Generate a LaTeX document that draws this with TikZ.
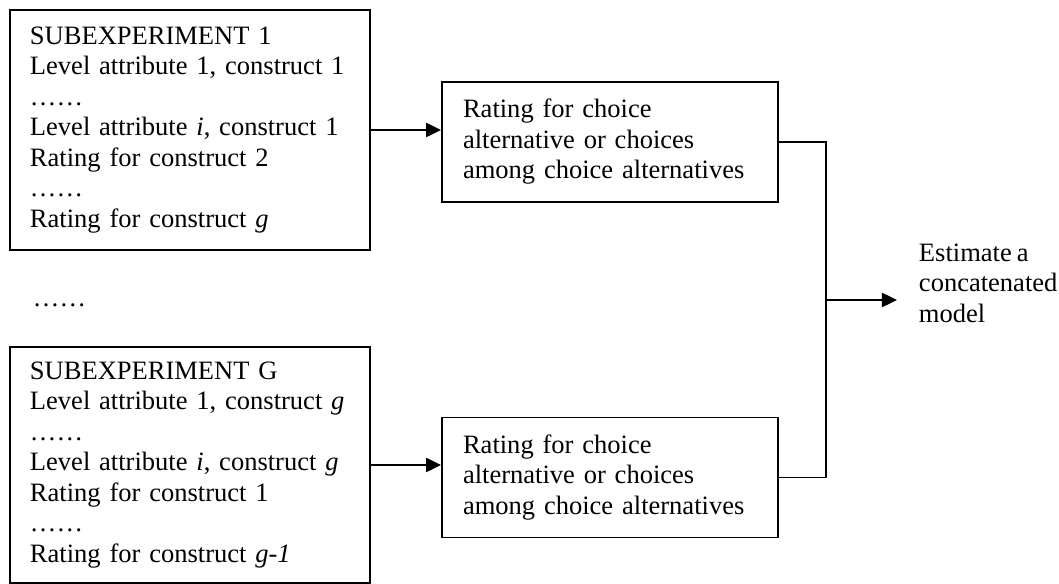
\documentclass[tikz,border=0pt]{standalone}
\usepackage{fontspec}
\setmainfont{Liberation Serif}[WordSpace=0.75]
\usetikzlibrary{arrows.meta}

\begin{document}
\begin{tikzpicture}[x=0.4525pt, y=-0.4525pt, line width=0.9pt,
    font=\fontsize{12}{13.8}\selectfont,
    subbox/.style={draw, align=left, text width=144.8pt, inner xsep=9.05pt, inner ysep=0pt},
    ratebox/.style={draw, align=left, text width=133pt, inner xsep=9.5pt, inner ysep=0pt, minimum height=54.3pt},
    arr/.style={-{Triangle[length=6.8pt, width=6.4pt]}}]
                    \useasboundingbox (0,0) rectangle (1059,584);
                    % Nodes
                    \node[subbox, minimum height=108.6pt] (sub1) at (190,130) {SUBEXPERIMENT 1\\Level attribute 1, construct 1\\……\\Level attribute \textit{i}, construct 1\\Rating for construct 2\\……\\Rating for construct \textit{g}};
                    \node[anchor=base west, inner sep=0pt] (gap) at (32,307) {……};
                    \node[subbox, minimum height=106.8pt] (subG) at (190,465) {SUBEXPERIMENT G\\Level attribute 1, construct \textit{g}\\……\\Level attribute \textit{i}, construct \textit{g}\\Rating for construct 1\\……\\Rating for construct \textit{g-1}};
                    \node[ratebox] (rate1) at (610,142) {Rating for choice\\alternative or choices\\among choice alternatives};
                    \node[ratebox] (rateG) at (610,477.5) {Rating for choice\\alternative or choices\\among choice alternatives};
                    \node[anchor=west, inner sep=0pt, align=left] (est) at (918,283) {Estimate a\\concatenated\\model};
                    \coordinate (join) at (826,300);
                    \coordinate (tip) at (897,300);
                    % Edges
                    \draw[arr] (sub1.east) -- (sub1.east -| rate1.west);
                    \draw[arr] (subG.east) -- (subG.east -| rateG.west);
                    \draw (rate1.east) -| (join) |- (rateG.east);
                    \draw[arr] (join) -- (tip);
                \end{tikzpicture}
\end{document}
